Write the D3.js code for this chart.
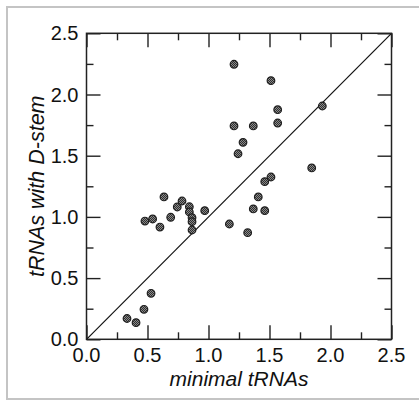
<!DOCTYPE html>
<html><head><meta charset="utf-8">
<script src="https://cdn.jsdelivr.net/npm/d3@7"></script>
<style>body{margin:0;background:#fff}svg{display:block}</style>
</head><body>
<script>
const xValues = [0.332,0.406,0.471,0.529,0.479,0.542,0.602,0.635,0.690,0.744,0.783,0.843,0.843,0.865,0.865,0.865,0.969,1.171,1.209,1.209,1.242,1.283,1.321,1.367,1.367,1.408,1.461,1.461,1.512,1.512,1.567,1.567,1.846,1.933];
const yValues = [0.170,0.136,0.245,0.376,0.966,0.983,0.917,1.163,0.997,1.081,1.130,1.083,1.040,0.994,0.961,0.893,1.051,0.942,2.247,1.743,1.516,1.609,0.871,1.065,1.743,1.163,1.288,1.051,1.326,2.113,1.876,1.767,1.400,1.906];
const majorTicks = [0,0.5,1.0,1.5,2.0,2.5];
const minorTicks = [0.25,0.75,1.25,1.75,2.25];
const xTitle = "minimal tRNAs";
const yTitle = "tRNAs with D-stem";

const W=419,H=401;
const L=86.5,R=391.5,T=33.3,B=339.3;
const svg=d3.select("body").append("svg").attr("width",W).attr("height",H);
const font="'Liberation Sans', Arial, Helvetica, sans-serif";

svg.append("rect").attr("x",7).attr("y",7).attr("width",430).attr("height",392)
  .attr("fill","none").attr("stroke","#c4c4c4").attr("stroke-width",2);

const x=d3.scaleLinear().domain([0,2.5]).range([L,R]);
const y=d3.scaleLinear().domain([0,2.5]).range([B,T]);

const defs=svg.append("defs");
const pat=defs.append("pattern").attr("id","hatch").attr("patternUnits","userSpaceOnUse").attr("width",2).attr("height",2);
pat.append("rect").attr("width",2).attr("height",2).attr("fill","#8a8a8a");
pat.append("rect").attr("width",1).attr("height",1).attr("fill","#2e2e2e");
pat.append("rect").attr("x",1).attr("y",1).attr("width",1).attr("height",1).attr("fill","#2e2e2e");

const axCol="#222";
const gB=svg.append("g").attr("transform",`translate(0,${B})`);
gB.call(d3.axisTop(x).tickValues(majorTicks).tickSize(14).tickFormat(""));
gB.call(g=>g.append("g").call(d3.axisTop(x).tickValues(minorTicks).tickSize(7).tickFormat("")));
const gT=svg.append("g").attr("transform",`translate(0,${T})`);
gT.call(d3.axisBottom(x).tickValues(majorTicks).tickSize(14).tickFormat(""));
gT.call(g=>g.append("g").call(d3.axisBottom(x).tickValues(minorTicks).tickSize(7).tickFormat("")));
const gL=svg.append("g").attr("transform",`translate(${L},0)`);
gL.call(d3.axisRight(y).tickValues(majorTicks).tickSize(14).tickFormat(""));
gL.call(g=>g.append("g").call(d3.axisRight(y).tickValues(minorTicks).tickSize(7).tickFormat("")));
const gR=svg.append("g").attr("transform",`translate(${R},0)`);
gR.call(d3.axisLeft(y).tickValues(majorTicks).tickSize(14).tickFormat(""));
gR.call(g=>g.append("g").call(d3.axisLeft(y).tickValues(minorTicks).tickSize(7).tickFormat("")));
svg.selectAll(".domain").remove();
svg.selectAll(".tick line").attr("stroke",axCol).attr("stroke-width",1.4);

svg.append("g").selectAll("text").data(majorTicks).join("text")
  .attr("x",d=>x(d)).attr("y",B+22.5).attr("text-anchor","middle")
  .attr("font-family",font).attr("font-size",20).attr("fill","#111")
  .text(d=>d.toFixed(1));
svg.append("g").selectAll("text").data(majorTicks).join("text")
  .attr("x",L-8).attr("y",d=>y(d)+7).attr("text-anchor","end")
  .attr("font-family",font).attr("font-size",20).attr("fill","#111")
  .text(d=>d.toFixed(1));

svg.append("line").attr("x1",x(0)).attr("y1",y(0)).attr("x2",x(2.5)).attr("y2",y(2.5))
  .attr("stroke","#111").attr("stroke-width",1.2);

svg.append("rect").attr("x",L).attr("y",T).attr("width",R-L).attr("height",B-T)
  .attr("fill","none").attr("stroke",axCol).attr("stroke-width",1.5);

svg.append("g").selectAll("circle").data(xValues.map((v,i)=>[v,yValues[i]])).join("circle")
  .attr("cx",d=>x(d[0])).attr("cy",d=>y(d[1])).attr("r",3.8)
  .attr("fill","url(#hatch)").attr("stroke","#1e1e1e").attr("stroke-width",1.2);

svg.append("text").attr("x",(L+R)/2).attr("y",385.5).attr("text-anchor","middle")
  .attr("font-family",font).attr("font-style","italic").attr("font-size",21).attr("fill","#111")
  .text(xTitle);
svg.append("text").attr("transform",`translate(44,${(T+B)/2}) rotate(-90)`).attr("text-anchor","middle")
  .attr("font-family",font).attr("font-style","italic").attr("font-size",21.5).attr("fill","#111")
  .text(yTitle);
</script>
</body></html>
